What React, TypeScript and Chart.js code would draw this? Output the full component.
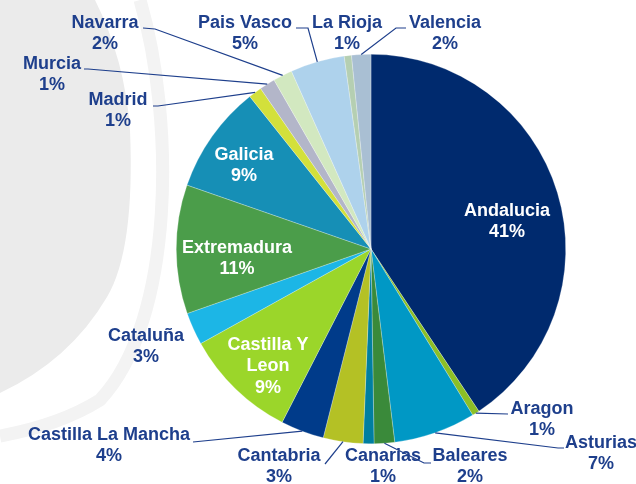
import React, { useEffect, useRef } from "react";
import { Chart, registerables } from "chart.js";

Chart.register(...registerables);

const categories = [
  "Andalucia", "Aragon", "Asturias", "Baleares", "Canarias", "Cantabria",
  "Castilla La Mancha", "Castilla Y Leon", "Cataluña", "Extremadura", "Galicia",
  "Madrid", "Murcia", "Navarra", "Pais Vasco", "La Rioja", "Valencia",
];
const shares = [40.7, 0.6, 6.8, 1.7, 0.9, 3.3, 3.6, 9.4, 2.7, 10.7, 9.0, 1.1, 1.3, 1.6, 4.5, 0.6, 1.6];
const sliceColors = [
  "#002a6e", "#8cbf26", "#0098c5", "#3a8a3a", "#007fa0", "#b4c125",
  "#003b8a", "#9bd62a", "#1cb6e6", "#4b9d4a", "#168fb6",
  "#d3e03b", "#b3b6c9", "#d2e8c0", "#aed2ec", "#b5cfb2", "#a9bfd3",
];

// label layout (text centre of first line, optional leader start / elbow)
type Lay = { lines?: string[]; x: number; y: number; inside?: boolean; from?: [number, number][] };
const labelLayout: Record<string, Lay> = {
  "Andalucia": { x: 507, y: 211, inside: true },
  "Aragon": { x: 542, y: 409, from: [[508, 414]] },
  "Asturias": { x: 601, y: 443, from: [[564, 448], [558, 448]] },
  "Baleares": { x: 470, y: 456, from: [[431, 463], [424, 463]] },
  "Canarias": { x: 383, y: 456 },
  "Cantabria": { x: 279, y: 456, from: [[325, 464]] },
  "Castilla La Mancha": { x: 109, y: 435, from: [[193, 442]] },
  "Castilla Y Leon": { lines: ["Castilla Y", "Leon"], x: 268, y: 345, inside: true },
  "Cataluña": { x: 146, y: 336 },
  "Extremadura": { x: 237, y: 248, inside: true },
  "Galicia": { x: 244, y: 155, inside: true },
  "Madrid": { x: 118, y: 100, from: [[153, 106], [158, 106]] },
  "Murcia": { x: 52, y: 64, from: [[84, 69], [88, 69]] },
  "Navarra": { x: 105, y: 23, from: [[143, 28], [155, 29]] },
  "Pais Vasco": { x: 245, y: 23, from: [[296, 28], [308, 28]] },
  "La Rioja": { x: 347, y: 23 },
  "Valencia": { x: 445, y: 23, from: [[406, 28], [396, 28]] },
};

const FONT = 'bold 18px "Liberation Sans", Arial, sans-serif';
const LABEL_COLOR = "#1e3f8c";
const LINE_H = 21.5;

const watermarkPlugin = {
  id: "watermark",
  beforeDraw(chart: any) {
    const ctx = chart.ctx;
    ctx.save();
    ctx.fillStyle = "#ebebeb";
    ctx.beginPath();
    ctx.moveTo(0, 0);
    ctx.lineTo(95, 0);
    ctx.quadraticCurveTo(125, 60, 130, 130);
    ctx.quadraticCurveTo(135, 250, 107, 297);
    ctx.quadraticCurveTo(70, 360, 0, 393);
    ctx.closePath();
    ctx.fill();
    ctx.strokeStyle = "#f3f3f3";
    ctx.lineWidth = 13;
    ctx.beginPath();
    ctx.moveTo(140, 0);
    ctx.bezierCurveTo(175, 120, 175, 320, 100, 400);
    ctx.quadraticCurveTo(60, 425, 0, 436);
    ctx.stroke();
    ctx.restore();
  },
};

const labelsPlugin = {
  id: "sliceLabels",
  afterDraw(chart: any) {
    const ctx = chart.ctx;
    const meta = chart.getDatasetMeta(0);
    ctx.save();
    ctx.font = FONT;
    ctx.textAlign = "center";
    ctx.textBaseline = "middle";
    categories.forEach((name, i) => {
      const lay = labelLayout[name];
      if (!lay) return;
      const arc = meta.data[i];
      const mid = (arc.startAngle + arc.endAngle) / 2;
      if (lay.from) {
        const ex = arc.x + Math.cos(mid) * arc.outerRadius;
        const ey = arc.y + Math.sin(mid) * arc.outerRadius;
        ctx.strokeStyle = LABEL_COLOR;
        ctx.lineWidth = 1.2;
        ctx.beginPath();
        ctx.moveTo(lay.from[0][0], lay.from[0][1]);
        for (let k = 1; k < lay.from.length; k++) ctx.lineTo(lay.from[k][0], lay.from[k][1]);
        ctx.lineTo(ex, ey);
        ctx.stroke();
      }
      const lines = [...(lay.lines || [name]), Math.round(shares[i]) + "%"];
      ctx.fillStyle = lay.inside ? "#ffffff" : LABEL_COLOR;
      lines.forEach((t, k) => ctx.fillText(t, lay.x, lay.y + k * LINE_H));
    });
    ctx.restore();
  },
};

export default function App() {
  const ref = useRef<HTMLCanvasElement | null>(null);
  useEffect(() => {
    document.body.style.margin = "0";
    const chart = new Chart(ref.current as HTMLCanvasElement, {
      type: "pie",
      data: {
        labels: categories,
        datasets: [
          {
            data: shares,
            backgroundColor: sliceColors,
            borderColor: "rgba(255,255,255,0.5)",
            borderWidth: 0.5,
          },
        ],
      },
      options: {
        responsive: false,
        animation: false,
        devicePixelRatio: 1,
        layout: { padding: { left: 176, right: 70, top: 54, bottom: 40 } },
        plugins: { legend: { display: false }, tooltip: { enabled: false } },
      },
      plugins: [watermarkPlugin, labelsPlugin],
    });
    return () => chart.destroy();
  }, []);
  return (
    <div style={{ width: 636, height: 484 }}>
      <canvas ref={ref} width={636} height={484} />
    </div>
  );
}
